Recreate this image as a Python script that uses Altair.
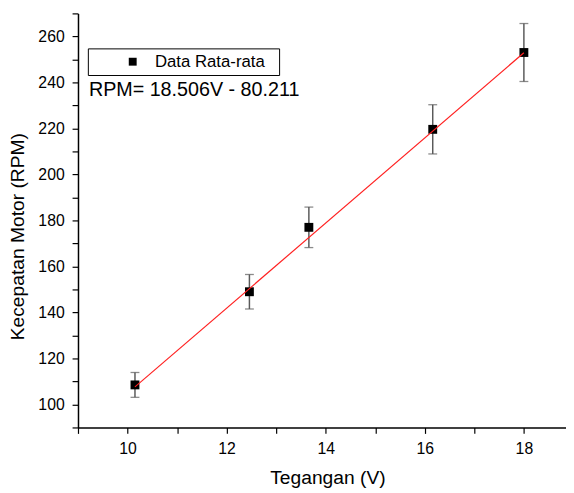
import altair as alt
import pandas as pd

# ---- data ----
voltage = [10.15, 12.46, 13.66, 16.16, 18.0]
rpm = [108.5, 149.0, 177.0, 219.6, 253.0]
err = [5.4, 7.5, 8.8, 10.7, 12.6]
series_name = "Data Rata-rata"

slope = 18.506
intercept = -80.211
fit_x = [10.15, 18.0]

equation = "RPM= 18.506V - 80.211"
eq_x = [9.22]
eq_y = [233.9]

x_ticks = [9, 10, 11, 12, 13, 14, 15, 16, 17, 18]
y_ticks = list(range(90, 271, 10))
x_domain = [9, 18.85]
y_domain = [90, 270]

FONT = "Liberation Sans"

df = pd.DataFrame({
    "V": voltage,
    "RPM": rpm,
    "lo": [r - e for r, e in zip(rpm, err)],
    "hi": [r + e for r, e in zip(rpm, err)],
    "series": [series_name] * len(voltage),
})
fit = pd.DataFrame({"V": fit_x, "RPM": [slope * v + intercept for v in fit_x]})
eq = pd.DataFrame({"V": eq_x, "RPM": eq_y, "t": [equation]})

xs = alt.Scale(domain=x_domain, nice=False, zero=False)
ys = alt.Scale(domain=y_domain, nice=False, zero=False)

x_axis = alt.Axis(
    values=x_ticks,
    tickCount=len(x_ticks),
    labelExpr="datum.value % 2 == 0 ? datum.label : ''",
    title="Tegangan (V)",
    grid=False,
    tickSize=6,
    labelPadding=7,
    titleBaseline="alphabetic",
    titleY=57,
    titleX=253,
    titleAnchor="middle",
)
y_axis = alt.Axis(
    values=y_ticks,
    tickCount=len(y_ticks),
    labelExpr="(datum.value % 20 == 0 && datum.value >= 100 && datum.value <= 260) ? datum.label : ''",
    labelOverlap=False,
    title="Kecepatan Motor (RPM)",
    grid=False,
    tickSize=6,
    labelPadding=8,
    titleAngle=-90,
    titleBaseline="alphabetic",
    titleAlign="center",
    titleX=-55,
    titleY=226,
)

X = alt.X("V:Q", scale=xs, axis=x_axis)

base = alt.Chart(df)

bars = base.mark_rule(color="#5a5a5a", strokeWidth=1.5).encode(
    x=X,
    y=alt.Y("lo:Q", scale=ys, axis=y_axis),
    y2="hi:Q",
)
cap_lo = base.mark_tick(orient="horizontal", size=9, thickness=1.3, color="#5a5a5a").encode(
    x=X, y=alt.Y("lo:Q", scale=ys, axis=y_axis)
)
cap_hi = base.mark_tick(orient="horizontal", size=9, thickness=1.3, color="#5a5a5a").encode(
    x=X, y=alt.Y("hi:Q", scale=ys, axis=y_axis)
)
points = base.mark_point(shape="square", filled=True, size=81, opacity=1).encode(
    x=X,
    y=alt.Y("RPM:Q", scale=ys, axis=y_axis),
    color=alt.Color(
        "series:N",
        scale=alt.Scale(range=["black"]),
        legend=alt.Legend(
            title=".",
            titleOrient="right",
            titleOpacity=0,
            titleFontSize=6,
            titlePadding=8,
            orient="none",
            legendX=10,
            legendY=35.5,
            padding=5,
            strokeColor="black",
            fillColor="white",
            symbolType="square",
            symbolSize=64,
            symbolStrokeWidth=0,
            symbolOffset=32,
            labelOffset=14,
            labelFont=FONT,
            labelFontSize=17,
            labelColor="black",
        ),
    ),
)
line = alt.Chart(fit).mark_line(color="#ff2020", strokeWidth=1.2).encode(
    x=X, y=alt.Y("RPM:Q", scale=ys, axis=y_axis)
)
text = alt.Chart(eq).mark_text(
    align="left", baseline="alphabetic", font=FONT, fontSize=20, color="black"
).encode(x=X, y=alt.Y("RPM:Q", scale=ys, axis=y_axis), text="t:N")

chart = alt.layer(bars, cap_lo, cap_hi, points, line, text).properties(
    width=495,
    height=420,
    autosize=alt.AutoSizeParams(type="none"),
    padding={"left": 71, "top": 2, "right": 0, "bottom": 63},
    background="white",
).configure_view(stroke=None).configure_axis(
    domainColor="black",
    domainWidth=1.5,
    tickColor="black",
    tickWidth=1.2,
    labelFont=FONT,
    labelFontSize=16,
    labelColor="black",
    titleFont=FONT,
    titleFontSize=19.5,
    titleFontWeight="normal",
    titleColor="black",
).configure_legend(strokeWidth=1, cornerRadius=0)

chart.save("out.html", embed_options={"renderer": "svg", "actions": False})
